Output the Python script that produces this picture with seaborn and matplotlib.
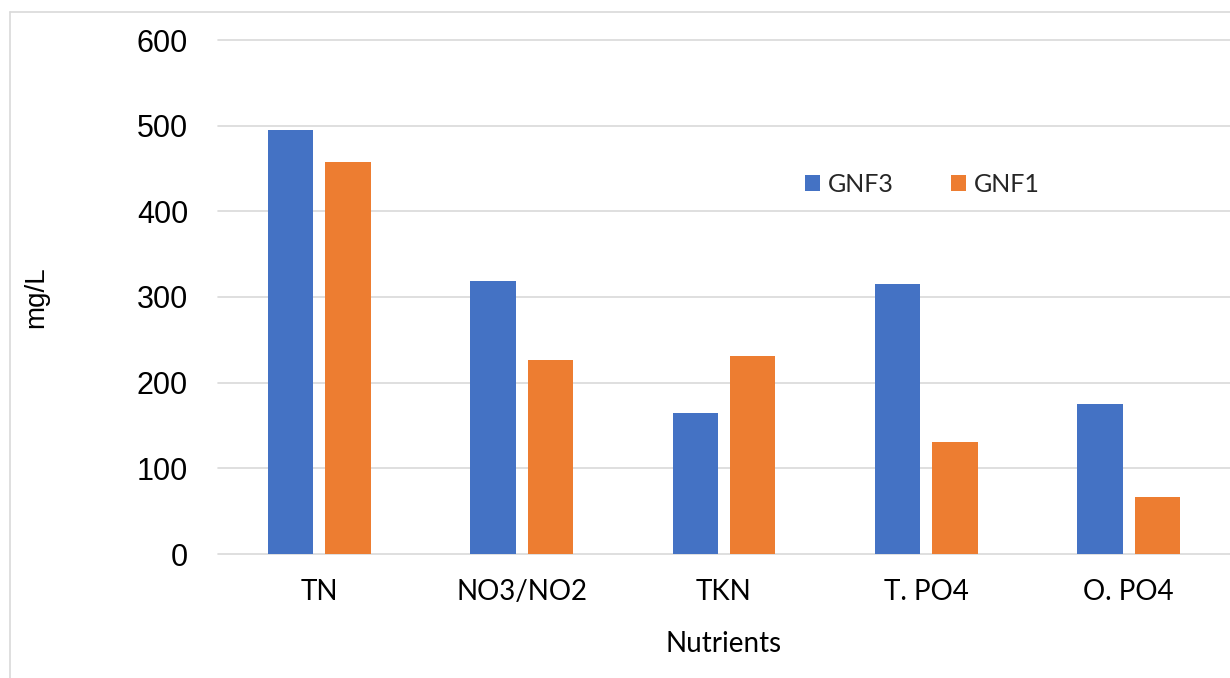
import matplotlib
matplotlib.use("Agg")
import matplotlib.pyplot as plt
import pandas as pd
import seaborn as sns
from matplotlib.lines import Line2D
from matplotlib.patches import Patch

categories = ["TN", "NO3/NO2", "TKN", "T. PO4", "O. PO4"]
gnf3 = [495, 319, 165, 315, 175]
gnf1 = [458, 226, 231, 131, 66]
series = ["GNF3", "GNF1"]
colors = ["#4472C4", "#ED7D31"]
yticks = [0, 100, 200, 300, 400, 500, 600]

df = pd.DataFrame({
    "Nutrients": categories * 2,
    "mg/L": gnf3 + gnf1,
    "Series": [series[0]] * len(categories) + [series[1]] * len(categories),
})

sns.set_theme(style="white")
W, H = 1230, 678
fig = plt.figure(figsize=(W / 100, H / 100), dpi=100)
ax = fig.add_axes([218 / W, 124 / H, 1012 / W, 514 / H])

sns.barplot(data=df, x="Nutrients", y="mg/L", hue="Series", hue_order=series,
            palette=colors, saturation=1, width=0.568, gap=0.21,
            linewidth=0, ax=ax, legend=False, errorbar=None)

ax.set_ylim(0, 600)
ax.set_xlim(-0.5, len(categories) - 0.5)
ax.set_yticks(yticks)
ax.set_yticklabels([str(v) for v in yticks], fontfamily="Liberation Sans", fontsize=22, color="black")
ax.set_xticks(range(len(categories)))
ax.set_xticklabels(categories, fontfamily="Lato", fontsize=20, color="black")
ax.tick_params(axis="y", length=0, pad=21.6)
ax.tick_params(axis="x", length=0, pad=18)

for s in ax.spines.values():
    s.set_visible(False)
ax.set_axisbelow(True)
ax.yaxis.grid(True, color="#d9d9d9", linewidth=1.2)
for gl in ax.yaxis.get_gridlines():
    gl.set_clip_on(False)
ax.xaxis.grid(False)

ax.set_xlabel("Nutrients", fontfamily="Lato", fontsize=20, color="black", labelpad=19)
ax.set_ylabel("mg/L", fontfamily="Liberation Sans", fontsize=20, color="black")
ax.yaxis.label.set_va("center")
ax.yaxis.set_label_coords((36 - 218) / 1012, 0.5)

handles = [Patch(facecolor=c, edgecolor="none") for c in colors]
fig.legend(handles, series, loc="center left", bbox_to_anchor=(805 / W, 1 - 184 / H),
           ncol=2, frameon=False, borderpad=0, borderaxespad=0,
           handlelength=0.6, handleheight=0.6, handletextpad=0.32,
           columnspacing=2.3, prop={"family": "Lato", "size": 18})

# outer chart border (cropped: only left and top visible)
fig.add_artist(Line2D([10 / W, 10 / W], [0, 1 - 12 / H], transform=fig.transFigure,
                      color="#d9d9d9", linewidth=1.2))
fig.add_artist(Line2D([10 / W, 1], [1 - 12 / H, 1 - 12 / H], transform=fig.transFigure,
                      color="#d9d9d9", linewidth=1.2))

fig.savefig("out.png", dpi=100, facecolor="white")
